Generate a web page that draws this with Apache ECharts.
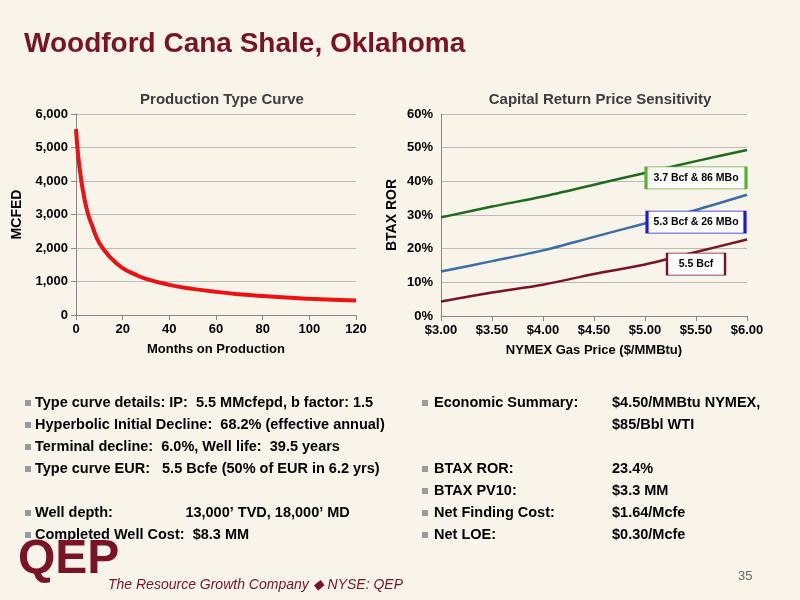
<!DOCTYPE html>
<html><head><meta charset="utf-8">
<script src="https://cdn.jsdelivr.net/npm/echarts@6/dist/echarts.min.js"></script>
<style>html,body{margin:0;padding:0;background:#f8f4ea}#c{width:800px;height:600px}</style>
</head><body><div id="c"></div>
<script>
const months=[0,1,2,3,5,7,10,15,20,25,30,40,50,60,70,80,90,100,110,120];
const mcfed=[5550,4700,4150,3700,3050,2650,2150,1700,1400,1220,1080,900,780,690,620,565,520,485,455,430];
const prices=['$3.00','$3.50','$4.00','$4.50','$5.00','$5.50','$6.00'];
const green=[29.3,32.5,35.5,39,42.5,46,49.3];
const blue=[13.2,16.3,19.5,23.5,27.5,31.5,36];
const red=[4.3,7,9.3,12.5,15.3,19,22.7];
const leftBullets=['Type curve details: IP:  5.5 MMcfepd, b factor: 1.5','Hyperbolic Initial Decline:  68.2% (effective annual)','Terminal decline:  6.0%, Well life:  39.5 years','Type curve EUR:   5.5 Bcfe (50% of EUR in 6.2 yrs)',null,'Well depth:                  13,000’ TVD, 18,000’ MD','Completed Well Cost:  $8.3 MM'];
const rightLabels=['Economic Summary:',null,null,'BTAX ROR:','BTAX PV10:','Net Finding Cost:','Net LOE:'];
const rightValues=['$4.50/MMBtu NYMEX,','$85/Bbl WTI',null,'23.4%','$3.3 MM','$1.64/Mcfe','$0.30/Mcfe'];
const ch=echarts.init(document.getElementById('c'));
const F='Liberation Sans, Arial, sans-serif';
const axT={fontFamily:F,fontWeight:'bold',fontSize:13,color:'#000'};
const g=[];
g.push({type:'text',left:24,top:30,style:{text:'Woodford Cana Shale, Oklahoma',font:'bold 28px '+F,fill:'#7a1424'}});
const y0=395,dy=22;
leftBullets.forEach((t,i)=>{if(!t)return;g.push({type:'rect',shape:{x:25,y:y0+i*dy+5,width:6,height:6},style:{fill:'#9a9a9a'}});g.push({type:'text',left:35,top:y0+i*dy,style:{text:t,font:'bold 14.5px '+F,fill:'#000'}});});
rightLabels.forEach((t,i)=>{if(!t)return;g.push({type:'rect',shape:{x:422,y:y0+i*dy+5,width:6,height:6},style:{fill:'#9a9a9a'}});g.push({type:'text',left:434,top:y0+i*dy,style:{text:t,font:'bold 14.5px '+F,fill:'#000'}});});
rightValues.forEach((t,i)=>{if(!t)return;g.push({type:'text',left:612,top:y0+i*dy,style:{text:t,font:'bold 14.5px '+F,fill:'#000'}});});
g.push({type:'text',left:18,top:536,style:{text:'QEP',font:'bold 48px '+F,fill:'#7a1424'}});
g.push({type:'text',left:108,top:578,style:{text:'The Resource Growth Company ◆ NYSE: QEP',font:'italic 14px '+F,fill:'#7a1424'}});
g.push({type:'text',left:738,top:570,style:{text:'35',font:'13px '+F,fill:'#666'}});
const box=(txt,w,bc)=>({symbol:'rect',symbolSize:[w,22],itemStyle:{color:'#fff',borderColor:bc,borderWidth:1.5},label:{formatter:txt,color:'#000',fontSize:10.5,fontWeight:'bold',fontFamily:F}});
ch.setOption({
 backgroundColor:'#f8f4ea',animation:false,
 title:[{text:'Production Type Curve',left:217,top:87,textAlign:'center',textStyle:{fontFamily:F,fontSize:15,fontWeight:'bold'}},
        {text:'Capital Return Price Sensitivity',left:595,top:87,textAlign:'center',textStyle:{fontFamily:F,fontSize:15,fontWeight:'bold'}}],
 graphic:g,
 grid:[{left:76,top:114,width:280,height:201},{left:441,top:114,width:306,height:202}],
 xAxis:[{type:'value',gridIndex:0,min:0,max:120,interval:20,name:'Months on Production',nameLocation:'middle',nameGap:28,nameTextStyle:axT,axisLabel:axT,splitLine:{show:false},axisLine:{lineStyle:{color:'#888'}},axisTick:{show:true,lineStyle:{color:'#888'}}},
        {type:'category',gridIndex:1,data:prices,boundaryGap:false,name:'NYMEX Gas Price ($/MMBtu)',nameLocation:'middle',nameGap:28,nameTextStyle:axT,axisLabel:axT,axisLine:{lineStyle:{color:'#888'}},axisTick:{lineStyle:{color:'#888'}}}],
 yAxis:[{type:'value',gridIndex:0,min:0,max:6000,interval:1000,name:'MCFED',nameLocation:'middle',nameGap:52,nameTextStyle:{...axT,fontSize:14},axisLabel:{...axT,formatter:v=>v.toLocaleString('en-US')},splitLine:{lineStyle:{color:'#bbb'}},axisLine:{show:true,lineStyle:{color:'#888'}}},
        {type:'value',gridIndex:1,min:0,max:60,interval:10,name:'BTAX ROR',nameLocation:'middle',nameGap:42,nameTextStyle:{...axT,fontSize:14},axisLabel:{...axT,formatter:'{value}%'},splitLine:{lineStyle:{color:'#bbb'}},axisLine:{show:true,lineStyle:{color:'#888'}}}],
 series:[
  {type:'line',xAxisIndex:0,yAxisIndex:0,data:months.map((m,i)=>[m,mcfed[i]]),smooth:true,showSymbol:false,lineStyle:{color:'#ee1111',width:4}},
  {type:'line',xAxisIndex:1,yAxisIndex:1,data:green,smooth:0.3,showSymbol:false,lineStyle:{color:'#1e6b1e',width:2.5},
   markPoint:{...box('3.7 Bcf & 86 MBo',100,'#5ab030'),data:[{coord:[5.31,41]}]}},
  {type:'line',xAxisIndex:1,yAxisIndex:1,data:blue,smooth:0.3,showSymbol:false,lineStyle:{color:'#3a6ea5',width:2.5},
   markPoint:{...box('5.3 Bcf & 26 MBo',98,'#1a1ae0'),data:[{coord:[5.31,27.9]}]}},
  {type:'line',xAxisIndex:1,yAxisIndex:1,data:red,smooth:0.3,showSymbol:false,lineStyle:{color:'#7a1424',width:2.5},
   markPoint:{...box('5.5 Bcf',58,'#7a1424'),data:[{coord:[5.31,15.4]}]}}
 ]
});
</script></body></html>
